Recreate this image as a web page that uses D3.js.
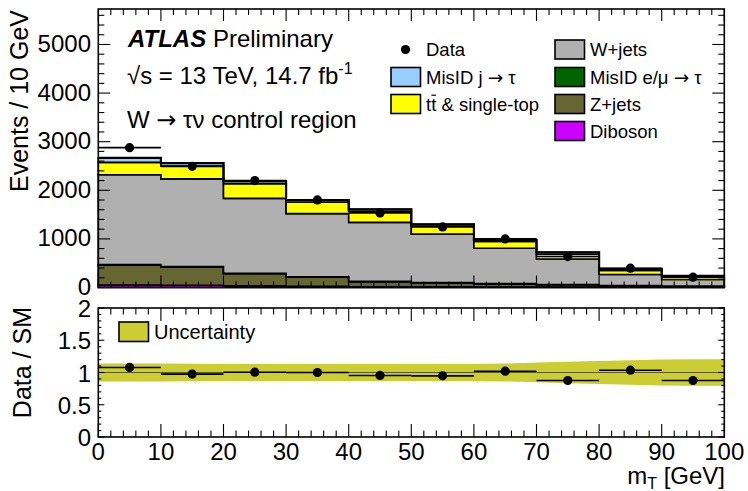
<!DOCTYPE html>
<html>
<head>
<meta charset="utf-8">
<script src="https://cdn.jsdelivr.net/npm/d3@7"></script>
<style>
  html, body { margin: 0; padding: 0; background: #fff; }
  svg { display: block; font-family: "Liberation Sans", Arial, Helvetica, sans-serif; }
  .sym { font-family: "DejaVu Sans", sans-serif; }
</style>
</head>
<body>
<svg id="chart" width="748" height="491"></svg>
<script>
// m_T bins (GeV)
const binEdges = [0, 10, 20, 30, 40, 50, 60, 70, 80, 90, 100];

// Observed events per bin and their statistical errors
const dataCounts = [2877, 2493, 2199, 1802, 1535, 1247, 1000, 637, 397, 212];
const dataErrors = [54, 50, 47, 42, 39, 35, 32, 25, 20, 15];

// Background predictions per bin (stacked bottom to top)
const diboson   = [50, 45, 35, 25, 15, 12, 10, 7, 5, 4];
const zJets     = [410, 375, 247, 189, 105, 82, 65, 50, 30, 22];
const misidLep  = [10, 10, 10, 8, 7, 6, 5, 5, 3, 2];
const wJets     = [1850, 1805, 1541, 1298, 1212, 1002, 727, 525, 230, 137];
const topQuark  = [255, 265, 305, 240, 230, 160, 138, 100, 85, 50];
const misidJet  = [90, 60, 50, 40, 40, 38, 35, 38, 32, 27];

// Data / SM ratio and the relative uncertainty of the prediction
const ratioValues = [1.078, 0.975, 1.005, 1.0, 0.954, 0.948, 1.02, 0.876, 1.036, 0.876];
const ratioErrors = [0.02, 0.02, 0.02, 0.02, 0.025, 0.03, 0.03, 0.04, 0.05, 0.06];
const bandX       = [0, 5, 15, 25, 35, 45, 55, 65, 75, 85, 95, 100];
const bandHalf    = [0.14, 0.14, 0.135, 0.13, 0.13, 0.13, 0.13, 0.14, 0.165, 0.19, 0.205, 0.205];

// Axis tick values
const yTicksMain  = [0, 1000, 2000, 3000, 4000, 5000];
const yTicksRatio = [0, 0.5, 1, 1.5, 2];
const yTickLabelsRatio = ["0", "0.5", "1", "1.5", "2"];
const xTicks      = [0, 10, 20, 30, 40, 50, 60, 70, 80, 90, 100];

const layers = [
  { name: "Diboson",   values: diboson,  color: "#cc00ff" },
  { name: "Z+jets",    values: zJets,    color: "#666633" },
  { name: "MisIDlep",  values: misidLep, color: "#006400" },
  { name: "W+jets",    values: wJets,    color: "#b0b0b0" },
  { name: "top",       values: topQuark, color: "#ffff00" },
  { name: "MisIDjet",  values: misidJet, color: "#99ccff" }
];

const bandColor = "#cccc33";

const svg = d3.select("#chart");
svg.append("rect").attr("width", 748).attr("height", 491).attr("fill", "#fff");

const L = 98.3, R = 724.3;
const x = d3.scaleLinear().domain([0, 100]).range([L, R]);
const yMain = d3.scaleLinear().domain([0, 5730]).range([287.5, 9]);
const yRatio = d3.scaleLinear().domain([0, 2]).range([437, 308]);

const nBins = dataCounts.length;

// ---------- Upper pad: stacked histograms ----------
const gMain = svg.append("g");
let cum = new Array(nBins).fill(0);
const stackLayers = layers.map(l => {
  const lo = cum.slice();
  const hi = cum.map((c, i) => c + l.values[i]);
  cum = hi;
  return { ...l, lo, hi };
});

function stepPoints(vals) {
  const pts = [];
  for (let i = 0; i < nBins; i++) {
    pts.push([binEdges[i], vals[i]]);
    pts.push([binEdges[i + 1], vals[i]]);
  }
  return pts;
}

stackLayers.forEach(l => {
  const top = stepPoints(l.hi);
  const bottom = stepPoints(l.lo).reverse();
  const pts = top.concat(bottom);
  const line = d3.line().x(d => x(d[0])).y(d => yMain(d[1]));
  gMain.append("path")
    .attr("d", line(pts) + "Z")
    .attr("fill", l.color)
    .attr("stroke", "#000")
    .attr("stroke-width", 1.6)
    .attr("stroke-linejoin", "miter");
});

// outline of the total prediction
const totalLine = d3.line().x(d => x(d[0])).y(d => yMain(d[1]));
gMain.append("path")
  .attr("d", totalLine(stepPoints(cum)))
  .attr("fill", "none")
  .attr("stroke", "#000")
  .attr("stroke-width", 2.2);

// data points
const centers = binEdges.slice(0, -1).map((e, i) => (e + binEdges[i + 1]) / 2);
dataCounts.forEach((v, i) => {
  gMain.append("line")
    .attr("x1", x(binEdges[i])).attr("x2", x(binEdges[i + 1]))
    .attr("y1", yMain(v)).attr("y2", yMain(v))
    .attr("stroke", "#000").attr("stroke-width", 1.6);
  gMain.append("line")
    .attr("x1", x(centers[i])).attr("x2", x(centers[i]))
    .attr("y1", yMain(v - dataErrors[i])).attr("y2", yMain(v + dataErrors[i]))
    .attr("stroke", "#000").attr("stroke-width", 1.6);
  gMain.append("circle")
    .attr("cx", x(centers[i])).attr("cy", yMain(v)).attr("r", 4.6)
    .attr("fill", "#000");
});

// ---------- Frame and ticks ----------
function drawFrame(yScale, yMajor, yMinorStep, yMajLen, yMinLen, xMajLen, xMinLen) {
  const g = svg.append("g");
  const [yb, yt] = yScale.range();
  const [d0, d1] = yScale.domain();
  d3.range(0, 100.001, 2).forEach(v => {
    const major = Math.abs(v % 10) < 1e-6;
    const len = major ? xMajLen : xMinLen;
    g.append("line").attr("x1", x(v)).attr("x2", x(v)).attr("y1", yb).attr("y2", yb - len)
      .attr("stroke", "#000").attr("stroke-width", 1.1);
    g.append("line").attr("x1", x(v)).attr("x2", x(v)).attr("y1", yt).attr("y2", yt + len)
      .attr("stroke", "#000").attr("stroke-width", 1.1);
  });
  d3.range(d0, d1 + 1e-9, yMinorStep).forEach(v => {
    const major = yMajor.some(m => Math.abs(m - v) < 1e-6);
    const len = major ? yMajLen : yMinLen;
    g.append("line").attr("x1", L).attr("x2", L + len).attr("y1", yScale(v)).attr("y2", yScale(v))
      .attr("stroke", "#000").attr("stroke-width", 1.1);
    g.append("line").attr("x1", R).attr("x2", R - len).attr("y1", yScale(v)).attr("y2", yScale(v))
      .attr("stroke", "#000").attr("stroke-width", 1.1);
  });
  g.append("rect").attr("x", L).attr("y", yt).attr("width", R - L).attr("height", yb - yt)
    .attr("fill", "none").attr("stroke", "#000").attr("stroke-width", 1.6);
}

// ---------- Lower pad: ratio ----------
const gRatio = svg.append("g");
const bandArea = d3.area()
  .x((d, i) => x(bandX[i]))
  .y0((d, i) => yRatio(1 - bandHalf[i]))
  .y1((d, i) => yRatio(1 + bandHalf[i]))
  .curve(d3.curveMonotoneX);
gRatio.append("path").attr("d", bandArea(bandX)).attr("fill", bandColor);
gRatio.append("line").attr("x1", L).attr("x2", R).attr("y1", yRatio(1)).attr("y2", yRatio(1))
  .attr("stroke", "#5a5a2a").attr("stroke-width", 1.2);

ratioValues.forEach((v, i) => {
  gRatio.append("line")
    .attr("x1", x(binEdges[i])).attr("x2", x(binEdges[i + 1]))
    .attr("y1", yRatio(v)).attr("y2", yRatio(v))
    .attr("stroke", "#000").attr("stroke-width", 1.6);
  gRatio.append("line")
    .attr("x1", x(centers[i])).attr("x2", x(centers[i]))
    .attr("y1", yRatio(v - ratioErrors[i])).attr("y2", yRatio(v + ratioErrors[i]))
    .attr("stroke", "#000").attr("stroke-width", 1.6);
  gRatio.append("circle")
    .attr("cx", x(centers[i])).attr("cy", yRatio(v)).attr("r", 4.6)
    .attr("fill", "#000");
});

drawFrame(yMain, yTicksMain, 200, 12, 6, 12, 6);
drawFrame(yRatio, yTicksRatio, 0.1, 6, 3, 13, 6.5);

// ---------- Tick labels ----------
const labelFont = 24;
yTicksMain.forEach(v => {
  svg.append("text").attr("x", 91).attr("y", yMain(v) + 7.5)
    .attr("text-anchor", "end").attr("font-size", labelFont).text(v);
});
yTicksRatio.forEach((v, i) => {
  svg.append("text").attr("x", 91).attr("y", yRatio(v) + 9)
    .attr("text-anchor", "end").attr("font-size", labelFont).text(yTickLabelsRatio[i]);
});
xTicks.forEach(v => {
  svg.append("text").attr("x", x(v)).attr("y", 460)
    .attr("text-anchor", "middle").attr("font-size", labelFont).text(v);
});

// ---------- Axis titles ----------
svg.append("text")
  .attr("transform", "translate(28,10) rotate(-90)")
  .attr("text-anchor", "end").attr("font-size", 25).text("Events / 10 GeV");
svg.append("text")
  .attr("transform", "translate(31,307) rotate(-90)")
  .attr("text-anchor", "end").attr("font-size", 25).text("Data / SM");
const xt = svg.append("text").attr("x", 725).attr("y", 484)
  .attr("text-anchor", "end").attr("font-size", 24);
xt.append("tspan").text("m");
xt.append("tspan").attr("font-size", 16).attr("dy", 5).text("T");
xt.append("tspan").attr("dy", -5).text(" [GeV]");

// ---------- Labels ----------
const lab = svg.append("text").attr("x", 128).attr("y", 47).attr("font-size", 24);
lab.append("tspan").attr("font-weight", "bold").attr("font-style", "italic").text("ATLAS");
lab.append("tspan").text(" Preliminary");
const lumi = svg.append("text").attr("x", 127).attr("y", 84).attr("font-size", 24);
lumi.append("tspan").text("\u221As = 13 TeV, 14.7 fb");
lumi.append("tspan").attr("font-size", 16).attr("dy", -10).text("-1");
const region = svg.append("text").attr("x", 127).attr("y", 128).attr("font-size", 24);
region.append("tspan").text("W ");
region.append("tspan").attr("class", "sym").text("\u2192");
region.append("tspan").text(" \u03C4\u03BD control region");

// ---------- Legend (upper pad) ----------
const legFont = 18.5;
const legRows = [49.5, 77, 104, 131];
const boxW = 29.5, boxH = 19;
svg.append("circle").attr("cx", 405.5).attr("cy", legRows[0]).attr("r", 4.6).attr("fill", "#000");
svg.append("text").attr("x", 426).attr("y", legRows[0] + 6.7).attr("font-size", legFont).text("Data");

const legendEntries = [
  { col: 0, row: 1, color: "#99ccff", parts: ["MisID j ", "\u2192", " \u03C4"] },
  { col: 0, row: 2, color: "#ffff00", parts: ["tt & single-top"], barOverChar: 1 },
  { col: 1, row: 0, color: "#b0b0b0", parts: ["W+jets"] },
  { col: 1, row: 1, color: "#006400", parts: ["MisID e/\u03BC ", "\u2192", " \u03C4"] },
  { col: 1, row: 2, color: "#666633", parts: ["Z+jets"] },
  { col: 1, row: 3, color: "#cc00ff", parts: ["Diboson"] }
];
const colBoxX = [391, 555];
const colTextX = [426, 590];
legendEntries.forEach(e => {
  const cy = legRows[e.row];
  svg.append("rect").attr("x", colBoxX[e.col]).attr("y", cy - boxH / 2)
    .attr("width", boxW).attr("height", boxH)
    .attr("fill", e.color).attr("stroke", "#000").attr("stroke-width", 1.6);
  const t = svg.append("text").attr("x", colTextX[e.col]).attr("y", cy + 6.7)
    .attr("font-size", legFont);
  e.parts.forEach(p => {
    t.append("tspan").attr("class", p === "\u2192" ? "sym" : null).text(p);
  });
  if (e.barOverChar !== undefined) {
    // anti-top bar over the second "t"
    const node = t.node();
    const s = node.getStartPositionOfChar(e.barOverChar);
    const en = node.getEndPositionOfChar(e.barOverChar);
    svg.append("line")
      .attr("x1", s.x + 0.3).attr("x2", en.x - 0.3)
      .attr("y1", cy + 6.7 - 15.5).attr("y2", cy + 6.7 - 15.5)
      .attr("stroke", "#000").attr("stroke-width", 1.2);
  }
});

// ---------- Legend (ratio pad) ----------
svg.append("rect").attr("x", 119).attr("y", 322).attr("width", 29.5).attr("height", 19.5)
  .attr("fill", bandColor).attr("stroke", "#000").attr("stroke-width", 1.6);
svg.append("text").attr("x", 154).attr("y", 338.5).attr("font-size", 20).text("Uncertainty");
</script>
</body>
</html>
